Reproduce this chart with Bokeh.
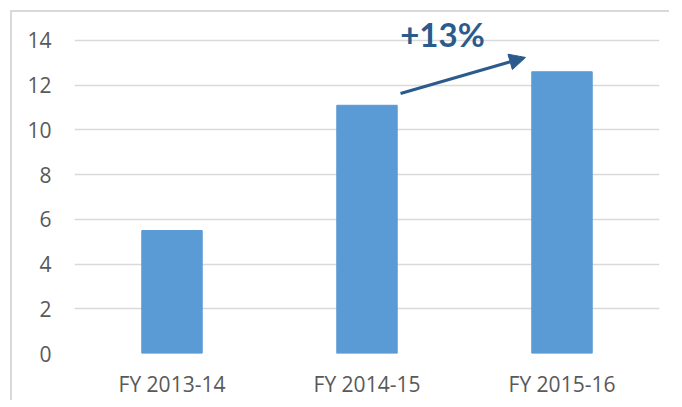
from bokeh.plotting import figure
from bokeh.models import Arrow, NormalHead, Label, FactorRange
from bokeh.embed import file_html
from bokeh.resources import INLINE

categories = ["FY 2013-14", "FY 2014-15", "FY 2015-16"]
values = [5.5, 11.1, 12.6]
y_ticks = [0, 2, 4, 6, 8, 10, 12, 14]
growth_label = "+13%"
# annotation arrow endpoints (data units: category index offset, value)
arrow_start = (1.672, 11.63)
arrow_end = (2.313, 13.24)
label_pos = (1.887, 14.30)

p = figure(x_range=FactorRange(*categories, range_padding=0), y_range=(0, 15.25),
           frame_width=585, frame_height=341, output_backend="svg", toolbar_location=None,
           min_border_left=62, min_border_right=10, min_border_top=0, min_border_bottom=46)
p.margin = (10, 0, 0, 10)
p.styles = {"border-top": "2px solid #D9D9D9", "border-left": "2px solid #D9D9D9"}

p.vbar(x=categories, top=values, width=0.31, color="#5B9BD5")

p.outline_line_color = None
p.xgrid.grid_line_color = None
p.ygrid.grid_line_color = "#D9D9D9"
p.ygrid.grid_line_width = 1.5
p.yaxis.ticker = y_ticks
for ax in (p.xaxis, p.yaxis):
    ax.axis_line_color = None
    ax.major_tick_line_color = None
    ax.minor_tick_line_color = None
    ax.major_label_text_font = "Open Sans"
    ax.major_label_text_font_size = "21px"
    ax.major_label_text_color = "#595959"
p.yaxis.major_label_standoff = 17
p.xaxis.major_label_standoff = 10

p.add_layout(Arrow(x_start=arrow_start[0], y_start=arrow_start[1], x_end=arrow_end[0], y_end=arrow_end[1],
                   line_color="#2B5B8C", line_width=3,
                   end=NormalHead(size=16, fill_color="#2B5B8C", line_color="#2B5B8C")))
p.add_layout(Label(x=label_pos[0], y=label_pos[1], text=growth_label, text_font="Lato",
                   text_font_style="bold", text_font_size="33px", text_color="#2B5B8C",
                   text_align="center", text_baseline="alphabetic", text_line_height=1.0))

open("out.html", "w").write(file_html(p, INLINE))
